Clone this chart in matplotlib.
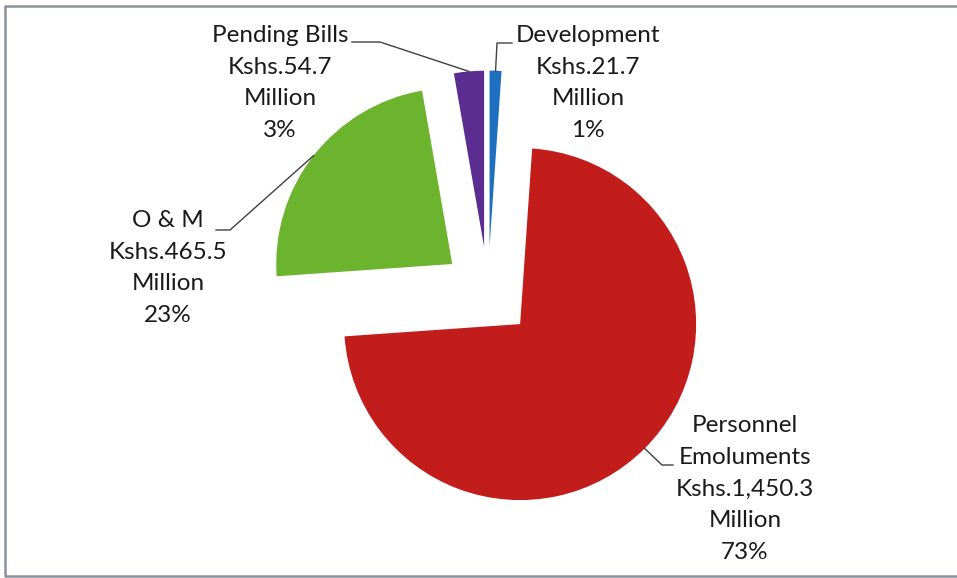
import numpy as np
import matplotlib.pyplot as plt

W, H = 957, 578

categories = ['Development', 'Personnel\nEmoluments', 'O & M', 'Pending Bills']
amounts = [21.7, 1450.3, 465.5, 54.7]          # Kshs. Million
amount_text = ['Kshs.21.7', 'Kshs.1,450.3', 'Kshs.465.5', 'Kshs.54.7']
percents = ['1%', '73%', '23%', '3%']
colors = ['#1f6fc0', '#c21d1b', '#6cb32e', '#5b2d90']

# layout (image pixel coords, y downwards)
label_pos = [(588, 83), (745, 489), (168, 268), (280, 83)]
elbow = [[(497, 43), (512, 43)],
         [(662, 465), (673, 465)],
         [(230, 230), (216, 230)],
         [(380, 42), (352, 42)]]

def fy(y):
    return H - y

fig = plt.figure(figsize=(W / 100, H / 100), dpi=100)
ax = fig.add_axes([0, 0, 1, 1])

R = 176
wedges, _ = ax.pie(amounts, colors=colors, startangle=90, counterclock=False,
                   center=(488, fy(292)), radius=R, explode=[45.4] * 4,
                   wedgeprops=dict(linewidth=0))
ax.set_xlim(0, W)
ax.set_ylim(0, H)
ax.set_aspect('equal')
ax.axis('off')

for i, w in enumerate(wedges):
    mid = np.deg2rad((w.theta1 + w.theta2) / 2)
    cx, cy = w.center
    px = cx + w.r * np.cos(mid)
    py = cy + w.r * np.sin(mid)
    xs = [px] + [p[0] for p in elbow[i]]
    ys = [py] + [fy(p[1]) for p in elbow[i]]
    ax.plot(xs, ys, color='#404040', lw=1.0)
    txt = '%s\n%s\nMillion\n%s' % (categories[i], amount_text[i], percents[i])
    ax.text(label_pos[i][0], fy(label_pos[i][1]), txt, ha='center', va='center',
            fontsize=17.5, family=['Lato', 'DejaVu Sans'], color='#1a1a1a',
            linespacing=1.62)

# chart frame (open on the right, as in the scan)
ax.plot([W + 20, 5, 5, W + 20], [fy(6), fy(6), fy(576), fy(576)],
        color='#8a929c', lw=1.8, clip_on=True)

fig.savefig('out.png', dpi=100)
